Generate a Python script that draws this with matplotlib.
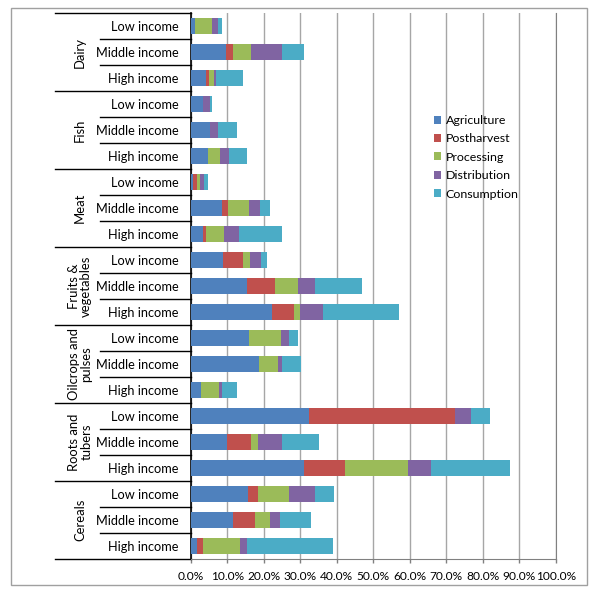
import matplotlib
matplotlib.use("Agg")
import matplotlib.pyplot as plt
import matplotlib.transforms as mtransforms
from matplotlib.patches import Rectangle
from matplotlib.lines import Line2D
import numpy as np

plt.rcParams['font.family'] = ['Lato', 'DejaVu Sans']

groups = ["Dairy", "Fish", "Meat", "Fruits &\nvegetables", "Oilcrops and\npulses",
          "Roots and\ntubers", "Cereals"]
incomes = ["Low income", "Middle income", "High income"]
stages = ["Agriculture", "Postharvest", "Processing", "Distribution", "Consumption"]
colors = ["#4F81BD", "#C0504D", "#9BBB59", "#8064A2", "#4BACC6"]

# rows top-to-bottom: each group Low, Middle, High (percent)
agriculture  = [1.3, 9.8, 4.3,  3.3, 5.2, 4.8,  0.7, 8.7, 3.3,  8.9, 15.3, 22.2,  15.9, 18.7, 2.8,  32.5, 10.0, 31.0,  15.7, 11.7, 1.8]
postharvest  = [0.0, 1.8, 0.7,  0.0, 0.0, 0.0,  0.9, 1.5, 0.8,  5.4, 7.7, 6.2,    0.0, 0.0, 0.0,    39.9, 6.6, 11.3,   2.8, 5.8, 1.7]
processing   = [4.4, 4.9, 1.3,  0.0, 0.0, 3.3,  0.9, 5.7, 5.0,  2.0, 6.3, 1.6,    8.8, 5.3, 5.0,    0.0, 1.8, 17.3,    8.5, 4.2, 9.9]
distribution = [1.7, 8.4, 0.5,  1.9, 2.4, 2.4,  1.1, 3.0, 4.2,  2.9, 4.8, 6.1,    2.2, 0.9, 0.8,    4.4, 6.7, 6.2,     7.0, 2.8, 1.9]
consumption  = [1.2, 6.2, 7.4,  0.7, 5.1, 5.0,  1.1, 2.8, 11.7, 1.7, 12.9, 21.0,  2.5, 5.3, 4.2,    5.2, 10.1, 21.5,   5.2, 8.4, 23.6]
xtick_labels = ["0.0%", "10.0%", "20.0%", "30.0%", "40.0%", "50.0%", "60.0%",
                "70.0%", "80.0%", "90.0%", "100.0%"]

series = [agriculture, postharvest, processing, distribution, consumption]
n = len(agriculture)
ypos = np.arange(n)[::-1]  # top row at highest y

W, H = 598, 600
fig = plt.figure(figsize=(W / 100, H / 100), dpi=100)
x0, x1, ytop, ybot = 190.7, 556.0, 13.0, 559.0
ax = fig.add_axes([x0 / W, 1 - ybot / H, (x1 - x0) / W, (ybot - ytop) / H])

left = np.zeros(n)
for vals, c, name in zip(series, colors, stages):
    v = np.array(vals)
    ax.barh(ypos, v, left=left, height=0.62, color=c, label=name, zorder=3)
    left += v

ax.set_xlim(0, 100)
ax.set_ylim(-0.5, n - 0.5)
ax.set_xticks(np.arange(0, 101, 10))
ax.set_xticklabels(xtick_labels, fontsize=8.6)
ax.grid(axis='x', color='#A6A6A6', lw=1.0, zorder=0)
ax.set_axisbelow(True)
ax.tick_params(axis='x', length=3, width=1, color='#808080', pad=6)
ax.set_yticks(ypos)
ax.set_yticklabels(incomes * len(groups), fontsize=9.2)
ax.tick_params(axis='y', length=0, pad=9)
ax.spines['top'].set_visible(False)
ax.spines['right'].set_color('#808080')
ax.spines['bottom'].set_color('#808080')
ax.spines['left'].set_color('#000000')
ax.spines['left'].set_linewidth(1.2)

# category separators
trans = mtransforms.blended_transform_factory(ax.transAxes, ax.transData)
axw = x1 - x0
xg = (55 - x0) / axw
xs = (100 - x0) / axw
for k in range(n + 1):
    yb = k - 0.5
    xstart = xg if k % 3 == 0 else xs
    ax.add_line(Line2D([xstart, 0], [yb, yb], transform=trans, color='black',
                       lw=1.0, clip_on=False))

xc = (80 - x0) / axw
for gi, g in enumerate(groups):
    yc = ypos[gi * 3 + 1]
    ax.text(xc, yc, g, transform=trans, rotation=90, ha='center', va='center',
            fontsize=9.4, linespacing=1.05, multialignment='center')

leg = ax.legend(loc='upper left',
                bbox_to_anchor=((429 - x0) / axw, (ybot - 110) / (ybot - ytop)),
                frameon=False, fontsize=8.9, handlelength=0.6, handleheight=0.6,
                handletextpad=0.35, labelspacing=0.6, borderaxespad=0)

fig.patches.append(Rectangle((11 / W, 1 - 585 / H), (587 - 11) / W, (585 - 8) / H,
                             transform=fig.transFigure, fill=False,
                             edgecolor='#A0A0A0', lw=1.0))

fig.savefig("out.png", dpi=100)
